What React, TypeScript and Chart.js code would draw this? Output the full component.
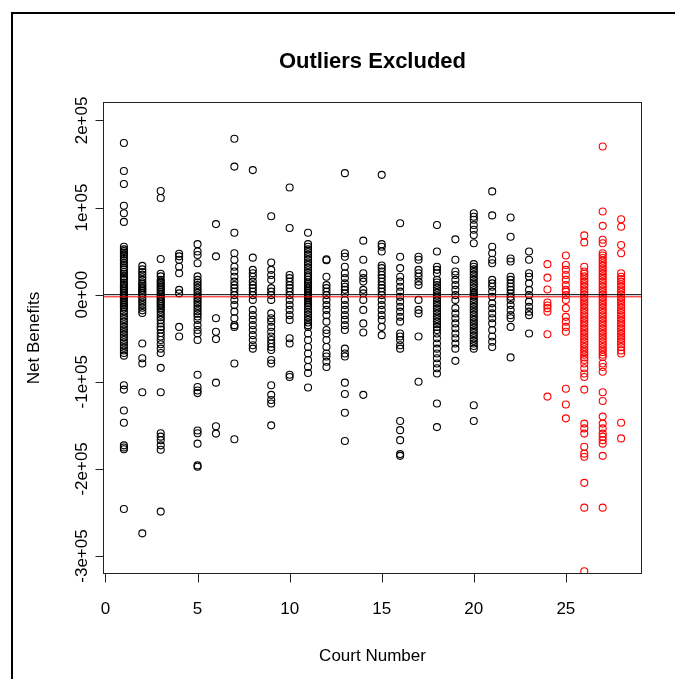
import React, { useEffect, useRef } from "react";
import { Chart, registerables } from "chart.js";

Chart.register(...registerables);

// Net benefits per court, in thousands
const c1 = [174, 142, 127, 102, 93.5, 83.5, 55, 52, 50, 48, 46, 44, 41, 39, 36, 34, 31, 29, 26, 24, 21, 19, 17, 14, 12, 10, 8, 6, 4, 2, 0, -2, -4, -6, -8, -10, -12, -14, -16, -19, -22, -25, -28, -31, -34, -37, -40, -43, -46, -49, -52, -55, -58, -61, -64, -67, -70, -104, -109, -133, -147, -173, -175.5, -177.5, -246];
const c2 = [33, 29, 26, 23, 20, 17, 14, 12, 10, 8, 6, 4, 2, 0, -3, -6, -9, -12, -15, -18, -21, -56, -73, -79, -112, -274];
const c3 = [119, 111, 41, 24, 21, 17, 15, 13, 11, 9, 7, 5, 3, 1, -1, -3, -5, -7, -9, -11, -13, -15, -17, -20, -23, -26, -29, -33, -37, -40, -44, -48, -52, -57, -62, -67, -84, -112, -159, -163, -167, -173, -178, -249];
const c4 = [47, 44, 40, 32, 24.5, 5.5, 1.5, -37, -48];
const c5 = [58, 49.5, 45.5, 36, 21, 17, 14, 11, 8, 5, 2, -1, -4, -7, -10, -13, -16, -19, -22, -25, -29, -35, -40.5, -44.5, -52, -92, -106, -110, -113, -156, -159, -171, -196, -197.5];
const c6 = [81, 44, -27, -42.5, -51, -101, -151, -159.5];
const c7 = [179, 147, 71, 47.5, 40, 32, 26.5, 20.5, 15, 11, 7.5, 3.5, -0.5, -6, -12, -19.5, -27, -35, -37, -79, -166];
const c8 = [143, 42.5, 28.5, 24.5, 20.5, 15, 11, 7.5, 3.5, -0.5, -6, -17.5, -23.5, -29, -35, -40.5, -46.5, -52, -58, -62];
const c9 = [90, 37, 28.5, 22.5, 17, 7.5, 3.5, -0.5, -6, -21.5, -27, -31, -37, -42.5, -48, -52, -56, -60, -63.5, -75, -79, -104, -115, -121, -125, -150];
const c10 = [123, 76.5, 22.5, 19, 15, 11, 7.5, 3.5, -0.5, -6, -12, -17.5, -23.5, -29, -50, -56, -92, -94.5];
const c11 = [71, 58, 55, 52, 49, 46, 43, 40, 37, 34, 31, 28, 25, 22, 20, 17, 14, 12, 10, 8, 6, 4, 2, 0, -2, -4, -6, -8, -10, -12, -14, -17, -20, -23, -26, -29, -32, -35, -37, -44.5, -52, -60, -67.5, -75, -83, -90, -106.5];
const c12 = [40.5, 39.5, 20.5, 11, 7.5, 3.5, -0.5, -6, -12, -17.5, -23.5, -31, -40.5, -44.5, -52, -60, -67.5, -71, -77, -83];
const c13 = [139.5, 47.5, 43.5, 32, 24.5, 19, 13, 9, 5.5, 1.5, -6, -12, -17.5, -23.5, -29, -35, -40.5, -62, -67.5, -71, -101, -114, -135.5, -168];
const c14 = [62, 40, 24.5, 19, 15, 5.5, 1.5, -6, -17.5, -33, -43.5, -115];
const c15 = [137.5, 58, 55, 49.5, 33.5, 30.5, 26.5, 22.5, 19, 15, 11, 7.5, 3.5, -0.5, -6, -12, -17.5, -23.5, -29, -37, -46.5];
const c16 = [82, 43.5, 30.5, 20.5, 15, 9, 3.5, -2.5, -8, -14, -19.5, -25.5, -31, -44.5, -48, -52, -58, -62, -145, -155.5, -167, -183, -185];
const c17 = [43.5, 40, 28.5, 24.5, 20.5, 15, 11, -6, -17.5, -21.5, -48, -100];
const c18 = [80, 49.5, 32, 28.5, 24.5, 17, 14, 11, 8, 5, 2, -1, -4, -7, -10, -13, -16, -19, -22, -25, -28, -31, -34, -37, -40.5, -44.5, -50, -56, -62, -67.5, -73, -79, -84.5, -90.5, -125, -152];
const c19 = [63.5, 40, 26.5, 22.5, 17, 11, 5.5, -0.5, -6, -15.5, -21.5, -27, -33, -38.5, -44.5, -50, -56, -62, -76];
const c20 = [93.5, 89.5, 86, 80, 74.5, 68.5, 59, 35, 32, 29, 26, 23, 20, 17, 14, 11, 8, 5, 2, 0, -2, -5, -8, -11, -14, -17, -20, -23, -26, -29, -32, -35, -38, -41, -44, -47, -50, -53, -56, -59, -62, -127, -145];
const c21 = [118.5, 91, 55, 47.5, 40, 36, 17, 13, 9, 3.5, -2.5, -10, -15.5, -21.5, -27, -33, -40.5, -48, -54, -60];
const c22 = [88.5, 66.5, 41.5, 38, 20.5, 17, 13, 9, 5.5, 1.5, -2.5, -6, -12, -17.5, -23.5, -27, -37, -72];
const c23 = [49.5, 40, 24.5, 20.5, 13, 5.5, -0.5, -8, -14, -19.5, -23.5, -44.5];
const c24 = [35, 19.5, 6, -9, -12.5, -15.5, -19.5, -45.5, -117];
const c25 = [45, 34, 28.5, 22.5, 17, 11, 5.5, 3.5, -0.5, -6, -15.5, -25.5, -31, -37, -42.5, -108, -126, -142];
const c26 = [68, 60, 32, 26.5, 24, 21, 18, 15, 12, 9, 6, 3, 0, -3, -6, -9, -12, -15, -18, -21, -24, -27, -30, -33, -36, -39, -42, -45, -48, -51, -54, -57, -60, -63, -66, -69, -72, -75, -79, -84.5, -90.5, -94.5, -109, -148, -153.5, -159.5, -174.5, -182.5, -186, -216, -244.5, -317.5];
const c27 = [170, 95.5, 79, 63, 59, 47.5, 45, 42, 39, 36, 33, 30, 27, 24, 21, 18, 15, 12, 9, 6, 3, 0, -3, -6, -9, -12, -15, -18, -21, -24, -27, -30, -33, -36, -39, -42, -45, -48, -51, -54, -57, -60, -63, -66, -69, -71.5, -79, -83, -88.5, -112, -122, -140, -148, -153.5, -159.5, -163, -167, -171, -185, -244.5];
const c28 = [86.5, 78, 57, 47.5, 24.5, 20.5, 18, 15, 12, 9, 6, 3, 0, -3, -6, -9, -12, -15, -18, -21, -24, -27, -30, -33, -36, -39, -42, -45, -48, -51, -54, -57, -60, -64, -67.5, -147, -165];

const courts = [c1, c2, c3, c4, c5, c6, c7, c8, c9, c10, c11, c12, c13, c14, c15, c16, c17, c18, c19, c20, c21, c22, c23, c24, c25, c26, c27, c28];
const redCourts = [24, 25, 26, 27, 28];

const zeroLine = 0;
const meanLine = -2.5;

const xTicks = [0, 5, 10, 15, 20, 25];
const yTicks = [-300, -200, -100, 0, 100, 200];
const yTickLabels = ["-3e+05", "-2e+05", "-1e+05", "0e+00", "1e+05", "2e+05"];

const X_MIN = -0.08;
const X_MAX = 29.08;
const Y_MIN = -319.5;
const Y_MAX = 220;

const FONT = '"Liberation Sans", Arial, sans-serif';

const rPlot = {
  id: "rPlot",
  afterDraw(chart: any) {
    const { ctx, chartArea: a, scales } = chart;
    const x = scales.x;
    const y = scales.y;
    ctx.save();
    // outer frame
    ctx.strokeStyle = "#000";
    ctx.lineWidth = 2;
    ctx.beginPath();
    ctx.moveTo(12, 679);
    ctx.lineTo(12, 13);
    ctx.lineTo(675, 13);
    ctx.stroke();

    // plot box
    ctx.lineWidth = 1;
    ctx.strokeStyle = "#222";
    ctx.strokeRect(Math.round(a.left) - 0.5, Math.round(a.top) - 0.5, Math.round(a.right - a.left) + 1, Math.round(a.bottom - a.top) + 1);

    // y axis
    const left = Math.round(a.left) - 0.5;
    ctx.beginPath();
    const yTop = Math.round(y.getPixelForValue(yTicks[yTicks.length - 1])) + 0.5;
    const yBot = Math.round(y.getPixelForValue(yTicks[0])) + 0.5;
    ctx.moveTo(left, yTop);
    ctx.lineTo(left, yBot);
    yTicks.forEach((v) => {
      const py = Math.round(y.getPixelForValue(v)) + 0.5;
      ctx.moveTo(left, py);
      ctx.lineTo(left - 8, py);
    });
    ctx.stroke();
    ctx.fillStyle = "#000";
    ctx.font = `17px ${FONT}`;
    ctx.textAlign = "center";
    ctx.textBaseline = "alphabetic";
    yTicks.forEach((v, i) => {
      const py = y.getPixelForValue(v);
      ctx.save();
      ctx.translate(87, py);
      ctx.rotate(-Math.PI / 2);
      ctx.fillText(yTickLabels[i], 0, 0);
      ctx.restore();
    });

    // x axis
    const bottom = Math.round(a.bottom) + 0.5;
    ctx.beginPath();
    const xL = Math.round(x.getPixelForValue(xTicks[0])) + 0.5;
    const xR = Math.round(x.getPixelForValue(xTicks[xTicks.length - 1])) + 0.5;
    ctx.moveTo(xL, bottom);
    ctx.lineTo(xR, bottom);
    xTicks.forEach((v) => {
      const px = Math.round(x.getPixelForValue(v)) + 0.5;
      ctx.moveTo(px, bottom);
      ctx.lineTo(px, bottom + 9);
    });
    ctx.stroke();
    xTicks.forEach((v) => {
      const px = x.getPixelForValue(v);
      ctx.fillText(String(v), px, 614);
    });

    // axis titles
    const cx = (a.left + a.right) / 2;
    const cy = (a.top + a.bottom) / 2;
    ctx.fillText("Court Number", cx, 661);
    ctx.save();
    ctx.translate(39, cy);
    ctx.rotate(-Math.PI / 2);
    ctx.fillText("Net Benefits", 0, 0);
    ctx.restore();

    // title
    ctx.font = `bold 22px ${FONT}`;
    ctx.fillText("Outliers Excluded", cx, 68);
    ctx.restore();
  },
};

export default function App() {
  const ref = useRef<HTMLCanvasElement>(null);
  useEffect(() => {
    if (!ref.current) return;
    const black: { x: number; y: number }[] = [];
    const red: { x: number; y: number }[] = [];
    courts.forEach((vals, i) => {
      const court = i + 1;
      const target = redCourts.includes(court) ? red : black;
      vals.forEach((v) => target.push({ x: court, y: v }));
    });
    const chart = new Chart(ref.current, {
      type: "scatter",
      data: {
        datasets: [
          {
            type: "line",
            data: [
              { x: X_MIN, y: zeroLine },
              { x: X_MAX, y: zeroLine },
            ],
            borderColor: "#000",
            borderWidth: 1,
            pointRadius: 0,
            order: 0,
          } as any,
          {
            type: "line",
            data: [
              { x: X_MIN, y: meanLine },
              { x: X_MAX, y: meanLine },
            ],
            borderColor: "#ff0000",
            borderWidth: 1,
            pointRadius: 0,
            order: 0,
          } as any,
          {
            data: black,
            borderColor: "#000",
            backgroundColor: "rgba(0,0,0,0)",
            borderWidth: 1.1,
            pointRadius: 3.5,
            order: 1,
          },
          {
            data: red,
            borderColor: "#ff0000",
            backgroundColor: "rgba(0,0,0,0)",
            borderWidth: 1.1,
            pointRadius: 3.5,
            order: 1,
          },
        ],
      },
      options: {
        responsive: false,
        animation: false,
        layout: { padding: { left: 104, top: 103, right: 34, bottom: 106 } },
        plugins: { legend: { display: false }, tooltip: { enabled: false }, title: { display: false } },
        scales: {
          x: { type: "linear", min: X_MIN, max: X_MAX, display: false },
          y: { type: "linear", min: Y_MIN, max: Y_MAX, display: false },
        },
      },
      plugins: [rPlot],
    });
    return () => chart.destroy();
  }, []);
  return (
    <div style={{ position: "absolute", left: 0, top: 0, width: 675, height: 679, background: "#fff" }}>
      <canvas ref={ref} width={675} height={679} style={{ display: "block" }} />
    </div>
  );
}
